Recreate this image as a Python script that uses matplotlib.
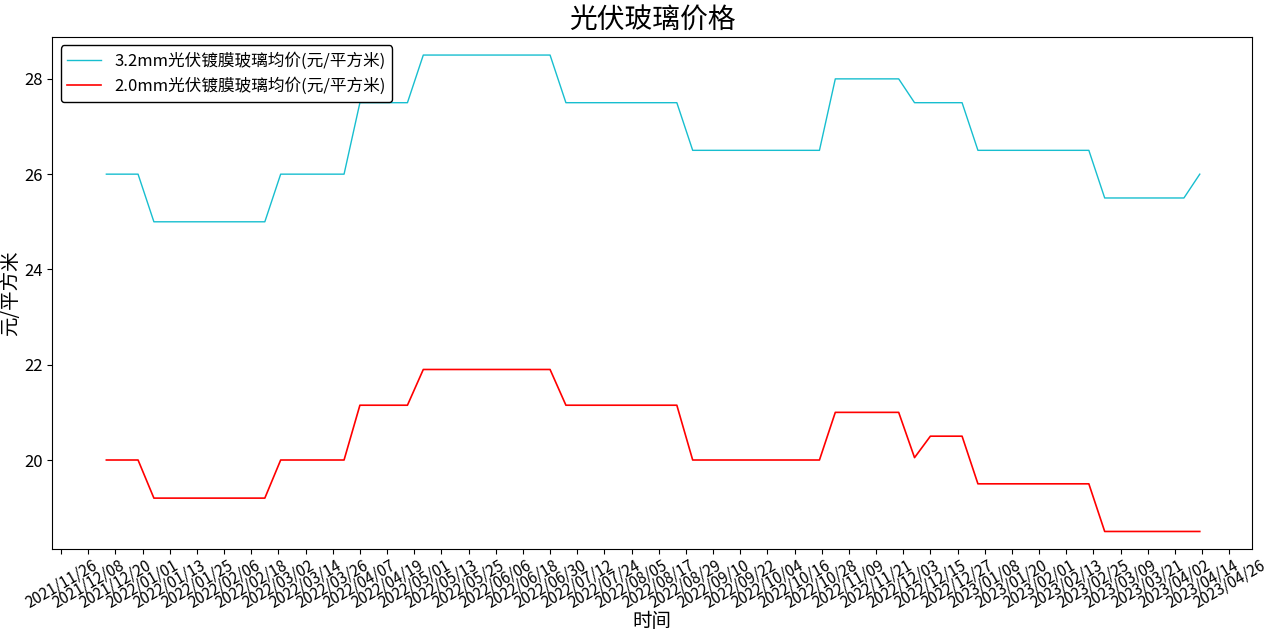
import matplotlib
matplotlib.use("Agg")
import matplotlib.pyplot as plt
import matplotlib.dates as mdates
import pandas as pd

plt.rcParams['font.family'] = ['Noto Sans CJK SC', 'DejaVu Sans']
plt.rcParams['axes.unicode_minus'] = False

dates = pd.date_range('2021-12-16', periods=70, freq='7D')
price_32 = ([26.0]*3 + [25.0]*8 + [26.0]*5 + [27.5]*4 + [28.5]*9 + [27.5]*8 +
            [26.5]*9 + [28.0]*5 + [27.5]*4 + [26.5]*8 + [25.5]*6 + [26.0])
price_20 = ([20.0]*3 + [19.2]*8 + [20.0]*5 + [21.15]*4 + [21.9]*9 + [21.15]*8 +
            [20.0]*9 + [21.0]*5 + [20.05] + [20.5]*3 + [19.5]*8 + [18.5]*7)
tick_dates = pd.date_range('2021-11-26', '2023-04-26', freq='12D')

fig, ax = plt.subplots(figsize=(12.8, 6.37), dpi=100)
fig.subplots_adjust(left=0.041, right=0.978, top=0.942, bottom=0.138)
ax.plot(dates, price_32, color='#17becf', lw=1, label='3.2mm光伏镀膜玻璃均价(元/平方米)')
ax.plot(dates, price_20, color='red', lw=1.2, label='2.0mm光伏镀膜玻璃均价(元/平方米)')
ax.set_xticks(tick_dates)
ax.xaxis.set_major_formatter(mdates.DateFormatter('%Y/%m/%d'))
plt.setp(ax.get_xticklabels(), rotation=30, ha='center', fontsize=11)
ax.tick_params(axis='x', pad=2)
ax.tick_params(axis='y', labelsize=12)
ax.set_xlim(pd.Timestamp('2021-11-26') - pd.Timedelta(days=3.8), pd.Timestamp('2021-11-26') + pd.Timedelta(days=526))
ax.set_ylim(18.13, 28.88)
ax.set_yticks([20, 22, 24, 26, 28])
ax.set_title('光伏玻璃价格', fontsize=20)
ax.set_xlabel('时间', fontsize=14, labelpad=0)
ax.set_ylabel('元/平方米', fontsize=14, labelpad=2)
leg = ax.legend(loc='upper left', fontsize=12, fancybox=True, edgecolor='black', framealpha=1)
fig.savefig('out.png')
